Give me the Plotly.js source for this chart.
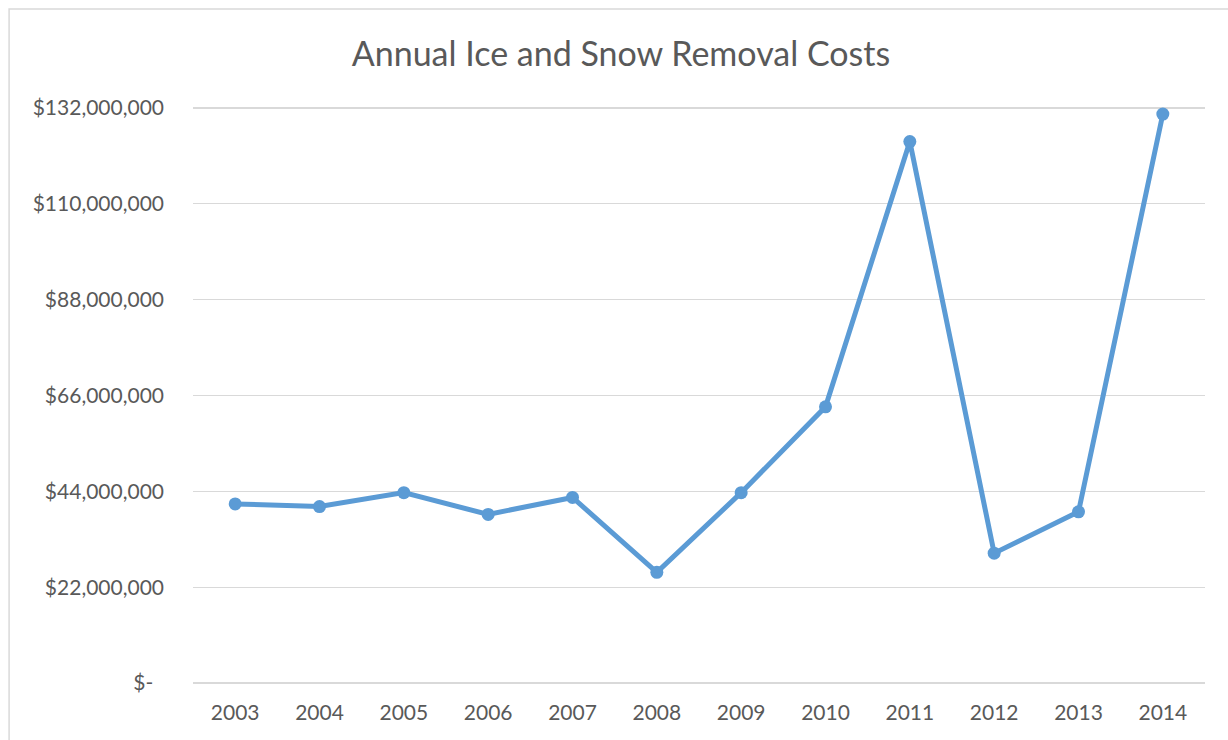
<!DOCTYPE html>
<html>
<head>
<meta charset="utf-8">
<script src="https://cdn.plot.ly/plotly-3.0.1.min.js"></script>
<style>
html,body{margin:0;padding:0;background:#fff;}
#chart{width:1228px;height:740px;}
</style>
</head>
<body>
<div id="chart"></div>
<script>
const years = ["2003","2004","2005","2006","2007","2008","2009","2010","2011","2012","2013","2014"];
const costs = [41100000, 40500000, 43700000, 38700000, 42600000, 25400000, 43700000, 63400000, 124300000, 29800000, 39300000, 130600000];
const yTickVals = [0, 22000000, 44000000, 66000000, 88000000, 110000000, 132000000];
const yTickText = ["$-\u00a0\u00a0", "$22,000,000", "$44,000,000", "$66,000,000", "$88,000,000", "$110,000,000", "$132,000,000"];
const chartTitle = "Annual Ice and Snow Removal Costs";

const L = 193, R = 22.5, T = 108, B = 57;
const pw = 1228 - L - R, ph = 740 - T - B;
const padPx = 3;
const pad = 132000000 * padPx / ph;

const trace = {
  x: years, y: costs, type: "scatter", mode: "lines+markers",
  line: {color: "#5B9BD5", width: 5},
  marker: {color: "#5B9BD5", size: 13},
  hoverinfo: "x+y"
};

const layout = {
  width: 1228, height: 740,
  margin: {l: L, r: R, t: T - padPx, b: B - padPx},
  paper_bgcolor: "#fff", plot_bgcolor: "#fff",
  font: {family: "Lato, 'Open Sans', sans-serif", color: "#595959", size: 21},
  title: {text: chartTitle, font: {size: 34, color: "#595959", family: "Lato, 'Open Sans', sans-serif"},
          x: 621 / 1228, xref: "container", xanchor: "center", y: 1 - 54/740, yref: "container", yanchor: "middle"},
  showlegend: false,
  xaxis: {type: "category", range: [-0.5, 11.5], showgrid: false, zeroline: false,
          showline: false, ticks: "", ticklabelstandoff: 15 - padPx, tickfont: {size: 21, color: "#595959"}},
  yaxis: {range: [-pad, 132000000 + pad], tickvals: yTickVals, ticktext: yTickText,
          showgrid: true, gridcolor: "#D9D9D9", gridwidth: 1.3, zeroline: false, showline: false,
          ticks: "", ticklabelstandoff: 28, tickfont: {size: 21, color: "#595959"}},
  shapes: [{type: "rect", xref: "paper", yref: "paper",
            x0: (9 - L) / pw, x1: (1240 - L) / pw,
            y0: (740 - (B - padPx) - 752) / (ph + 2 * padPx), y1: (740 - (B - padPx) - 9) / (ph + 2 * padPx),
            line: {color: "#D9D9D9", width: 1.5}, layer: "below"}]
};

Plotly.newPlot("chart", [trace], layout, {displayModeBar: false, staticPlot: true});
</script>
</body>
</html>
